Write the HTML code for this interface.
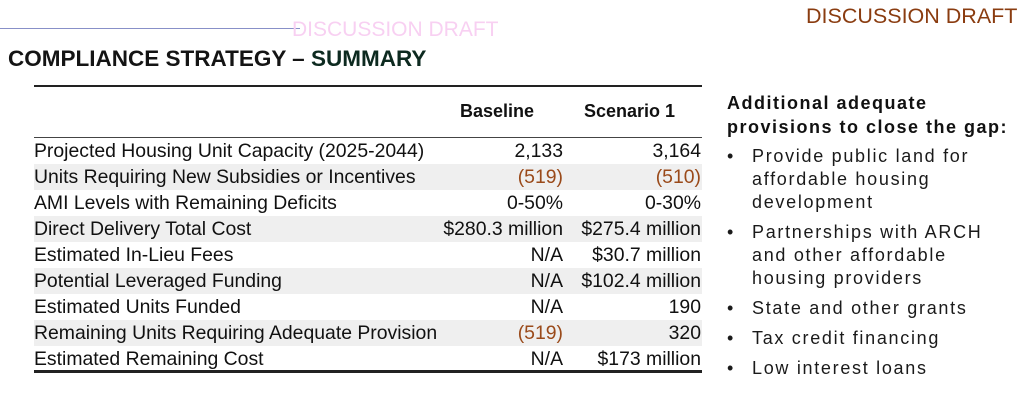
<!DOCTYPE html>
<html><head><meta charset="utf-8"><style>
body{margin:0;width:1024px;height:403px;background:#fff;position:relative;overflow:hidden;font-family:"Liberation Sans",sans-serif;color:#111}
.a{position:absolute;white-space:nowrap}
.row{position:absolute;left:34px;width:668px;height:26px;font-size:19.4px;line-height:26px}
.row.g{background:#efefef}
.row span{position:absolute}
.l{left:0}
.b{right:139px;text-align:right}
.s{right:1px;text-align:right}
.neg{color:#9a4a1a}
.bul{position:absolute;left:727px;font-size:18px;letter-spacing:1.7px;line-height:23px;color:#1a1a1a}
.bul li{list-style:none;position:relative;padding-left:25px;margin-bottom:7px}
.bul li:before{content:"•";position:absolute;left:0}
</style></head><body>
<div class="a" style="left:0;top:28px;width:300px;height:1px;background:#8890c8"></div>
<div class="a" style="left:292px;top:18px;font-size:21px;color:#f8d0f2">DISCUSSION DRAFT</div>
<div class="a" style="left:806px;top:4px;font-size:21.5px;color:#8a3c10">DISCUSSION DRAFT</div>
<div class="a" style="left:8px;top:46px;font-size:22.5px;font-weight:bold;color:#141414">COMPLIANCE STRATEGY – <span style="color:#0d2a20">SUMMARY</span></div>
<div class="a" style="left:34px;top:85px;width:668px;height:2px;background:#222"></div>
<div class="a" style="left:460px;top:101px;font-size:18px;font-weight:bold">Baseline</div>
<div class="a" style="left:584px;top:101px;font-size:18px;font-weight:bold">Scenario 1</div>
<div class="a" style="left:34px;top:137px;width:668px;height:1px;background:#444"></div>
<div id="tbl"></div>
<div class="a" style="left:34px;top:370px;width:668px;height:3px;background:#222"></div>
<div class="a" style="left:727px;top:91px;font-size:18px;font-weight:bold;line-height:24px;letter-spacing:1.5px">Additional adequate<br>provisions to close the gap:</div>
<ul class="bul" style="top:145px;margin:0;padding:0">
<li>Provide public land for<br>affordable housing<br>development</li>
<li>Partnerships with ARCH<br>and other affordable<br>housing providers</li>
<li>State and other grants</li>
<li>Tax credit financing</li>
<li>Low interest loans</li>
</ul>
<script>
const labels=["Projected Housing Unit Capacity (2025-2044)","Units Requiring New Subsidies or Incentives","AMI Levels with Remaining Deficits","Direct Delivery Total Cost","Estimated In-Lieu Fees","Potential Leveraged Funding","Estimated Units Funded","Remaining Units Requiring Adequate Provision","Estimated Remaining Cost"];
const baseline=["2,133","(519)","0-50%","$280.3 million","N/A","N/A","N/A","(519)","N/A"];
const scenario1=["3,164","(510)","0-30%","$275.4 million","$30.7 million","$102.4 million","190","320","$173 million"];
const tbl=document.getElementById('tbl');
labels.forEach((lab,i)=>{
  const r=document.createElement('div');
  r.className='row'+(i%2?' g':'');
  r.style.top=(138+i*26)+'px';
  
  
  const a=document.createElement('span');a.className='l';a.textContent=lab;
  
  
  const b=document.createElement('span');b.className='b'+(baseline[i].startsWith('(')?' neg':'');b.textContent=baseline[i];
  
  
  const c=document.createElement('span');c.className='s'+(scenario1[i].startsWith('(')?' neg':'');c.textContent=scenario1[i];
  
  
  r.append(a,b,c);tbl.appendChild(r);
});
</script>
</body></html>
